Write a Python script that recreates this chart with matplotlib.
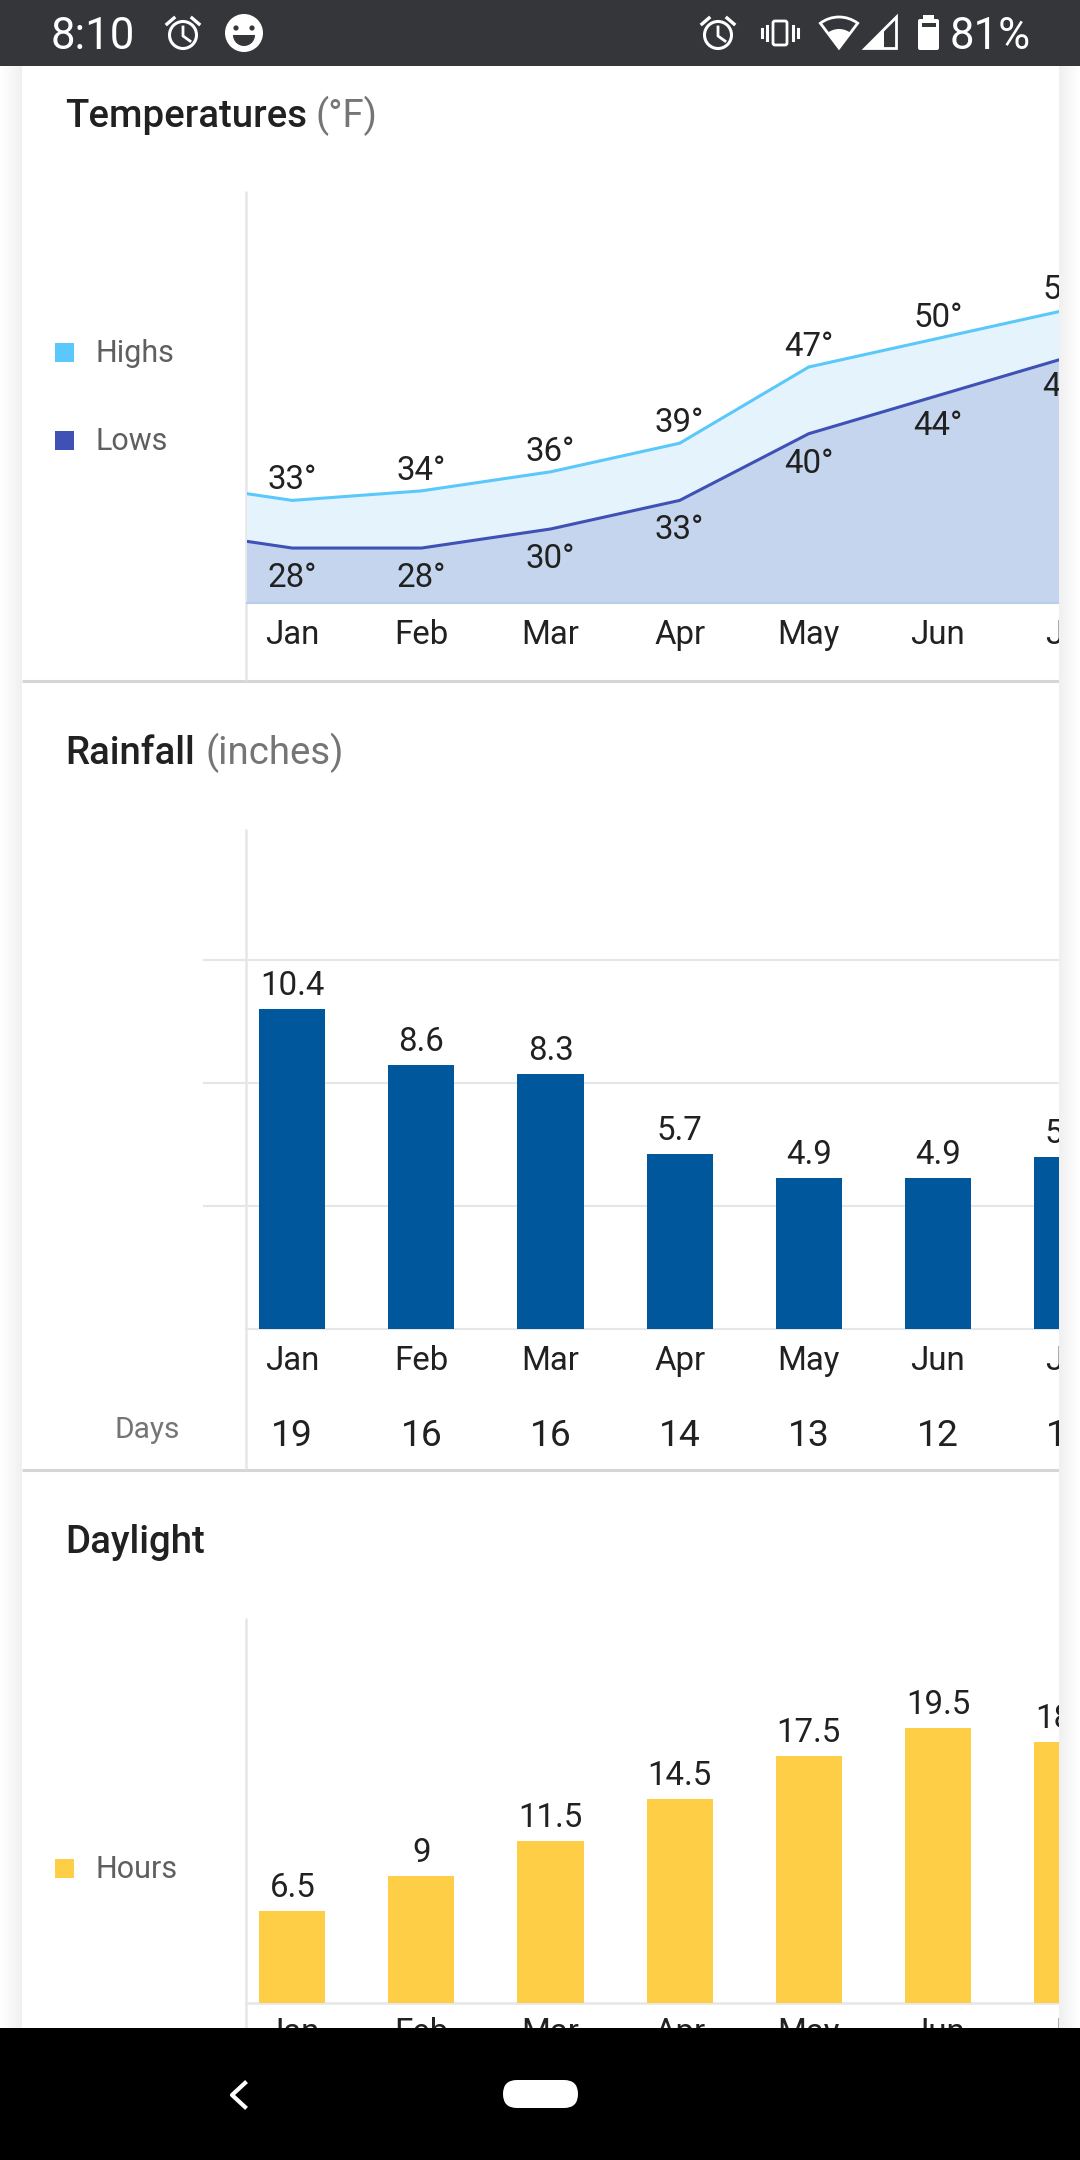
import numpy as np
from matplotlib import pyplot as plt
from matplotlib.patches import Rectangle, Circle, Wedge, Polygon, FancyBboxPatch

plt.rcParams['font.family'] = ['Roboto', 'DejaVu Sans']

W, H = 1080, 2160
months = ['Jan', 'Feb', 'Mar', 'Apr', 'May', 'Jun', 'Jul']

# temperatures, first point is Dec which sits just left of the axis
temp_pos = [-1, 0, 1, 2, 3, 4, 5, 6]
highs = [35, 33, 34, 36, 39, 47, 50, 53]
lows = [30, 28, 28, 30, 33, 40, 44, 48]

rainfall = [10.4, 8.6, 8.3, 5.7, 4.9, 4.9, 5.6]
rain_ticks = [4, 8, 12]
rain_days = [19, 16, 16, 14, 13, 12, 11]

daylight = [6.5, 9, 11.5, 14.5, 17.5, 19.5, 18.5]
daylight_labels = ['6.5', '9', '11.5', '14.5', '17.5', '19.5', '18.5']

TEXT = '#212121'
GREY = '#757575'
LEGEND = '#5f5f5f'
LINE = '#e6e6e6'
SEP = '#d6d6d6'
C_HIGH = '#5ac8fa'
C_LOW = '#3f51b5'
C_RAIN = '#01579b'
C_SUN = '#ffce47'

X0, DX = 292.3, 129.12
FS = 23.8

fig = plt.figure(figsize=(W / 100, H / 100), dpi=100, facecolor='white')


def pixel_ax(z):
    ax = fig.add_axes([0, 0, 1, 1], zorder=z)
    ax.set_xlim(0, W)
    ax.set_ylim(H, 0)
    ax.axis('off')
    ax.patch.set_visible(False)
    return ax


def chart_ax(left, top, bottom, ymin, ymax, pad=12):
    ax = fig.add_axes([left / W, 1 - bottom / H, (W - left) / W, (bottom - top) / H], zorder=2)
    ax.patch.set_visible(False)
    for s in ax.spines.values():
        s.set_visible(False)
    ax.set_xlim((left - X0) / DX, (W - X0) / DX)
    ax.set_ylim(ymin, ymax)
    ax.set_xticks(range(len(months)))
    ax.set_xticklabels(months, fontsize=FS, color=TEXT)
    ax.set_yticks([])
    ax.tick_params(length=0, pad=pad)
    return ax


back = pixel_ax(0)
top = pixel_ax(5)

# section separators and vertical axis lines
for y in [681, 1470]:
    back.plot([22, 1059], [y, y], color=SEP, lw=2.2, solid_capstyle='butt')
for y0, y1 in [(191, 680), (829, 1469), (1618, 2030)]:
    back.plot([246, 246], [y0, y1], color=LINE, lw=1.8, solid_capstyle='butt')
back.plot([246, 1059], [1328.6, 1328.6], color=LINE, lw=1.5)
back.plot([246, 1059], [2003, 2003], color=LINE, lw=1.8)

# titles
back.text(65.5, 127, 'Temperatures', fontsize=27.6, fontweight='medium', color=TEXT, va='baseline')
back.text(315, 127, '(°F)', fontsize=27.6, color=GREY, va='baseline')
back.text(65.5, 764, 'Rainfall', fontsize=27.6, fontweight='medium', color=TEXT, va='baseline')
back.text(205, 764, '(inches)', fontsize=27.6, color=GREY, va='baseline')
back.text(65.5, 1553, 'Daylight', fontsize=27.6, fontweight='medium', color=TEXT, va='baseline')

# legends
for y, c, lab in [(352.5, C_HIGH, 'Highs'), (440.5, C_LOW, 'Lows'), (1868, C_SUN, 'Hours')]:
    back.add_patch(Rectangle((55, y - 9.5), 19, 19, color=c, lw=0))
    back.text(96, y + 9.5, lab, fontsize=22, color=LEGEND, va='baseline')
back.text(179.5, 1438, 'Days', fontsize=21.5, color=GREY, va='baseline', ha='right')

# temperatures
ppd = 9.53
ax1 = chart_ax(247, 191, 602.7, 33 - (602.7 - 500.4) / ppd, 33 + (500.4 - 191) / ppd)
base = ax1.get_ylim()[0]
ax1.fill_between(temp_pos, highs, base, color='#e5f3fd', lw=0)
ax1.fill_between(temp_pos, lows, base, color='#c5d5ee', lw=0)
ax1.plot(temp_pos, highs, color=C_HIGH, lw=2.2)
ax1.plot(temp_pos, lows, color=C_LOW, lw=2.2)
ax1.axhline(base, color='#b9cce8', lw=1.5, clip_on=False)
for x, hi, lo in zip(temp_pos[1:], highs[1:], lows[1:]):
    ax1.annotate(f'{hi}°', (x, hi), xytext=(0, 11), textcoords='offset pixels', ha='center',
                 va='baseline', fontsize=FS, color=TEXT, annotation_clip=False)
    ax1.annotate(f'{lo}°', (x, lo), xytext=(0, -39), textcoords='offset pixels', ha='center',
                 va='baseline', fontsize=FS, color=TEXT, annotation_clip=False)

# rainfall
ppi = 30.7
ax2 = chart_ax(203, 829, 1328.6, 0, (1328.6 - 829) / ppi)
ax2.set_yticks(rain_ticks)
ax2.set_yticklabels([])
ax2.grid(axis='y', color=LINE, lw=1.5)
ax2.set_axisbelow(True)
ax2.bar(range(len(months)), rainfall, width=0.512, color=C_RAIN)
for i, v in enumerate(rainfall):
    ax2.annotate(f'{v}', (i, v), xytext=(0, 14), textcoords='offset pixels', ha='center',
                 va='baseline', fontsize=FS, color=TEXT, annotation_clip=False)
    ax2.annotate(f'{rain_days[i]}', (i, 0), xytext=(0, -117), textcoords='offset pixels', ha='center',
                 va='baseline', fontsize=26.8, color=TEXT, annotation_clip=False)

# daylight
pph = 14.1
ax3 = chart_ax(247, 1618, 2003, 0, (2003 - 1618) / pph, pad=10)
ax3.bar(range(len(months)), daylight, width=0.512, color=C_SUN)
for i, v in enumerate(daylight):
    ax3.annotate(daylight_labels[i], (i, v), xytext=(0, 14), textcoords='offset pixels', ha='center',
                 va='baseline', fontsize=FS, color=TEXT, annotation_clip=False)

# page shadow either side of the card
shade_l = np.linspace(0, 1, 40).reshape(1, -1)
top.imshow(shade_l, extent=(0, 22, 2030, 66), cmap='Greys', vmin=-0.0, vmax=8, aspect='auto', zorder=1)
top.imshow(shade_l[:, ::-1], extent=(1059, W, 2030, 66), cmap='Greys', vmin=0, vmax=8, aspect='auto', zorder=1)
top.set_xlim(0, W)
top.set_ylim(H, 0)

# status bar
BAR = '#35363a'
top.add_patch(Rectangle((0, 0), W, 66, color=BAR, lw=0, zorder=2))
top.text(50.5, 49, '8:10', fontsize=31.5, color='white', va='baseline', zorder=3)
top.text(950, 49, '81%', fontsize=31.5, color='white', va='baseline', zorder=3)


def alarm(cx, cy):
    top.add_patch(Circle((cx, cy), 13.5, fill=False, ec='white', lw=2.2, zorder=3))
    top.plot([cx, cx, cx + 7], [cy - 8, cy + 1, cy + 6], color='white', lw=2, zorder=3)
    top.plot([cx - 16, cx - 9], [cy - 11, cy - 17], color='white', lw=2.4, zorder=3)
    top.plot([cx + 16, cx + 9], [cy - 11, cy - 17], color='white', lw=2.4, zorder=3)


alarm(183, 35)
alarm(718, 35)

# face
top.add_patch(Circle((244, 33), 19, color='white', lw=0, zorder=3))
top.add_patch(Circle((236, 28), 2.6, color=BAR, lw=0, zorder=4))
top.add_patch(Circle((252, 28), 2.6, color=BAR, lw=0, zorder=4))
top.add_patch(Wedge((244, 35), 11, 0, 180, color=BAR, lw=0, zorder=4))

# vibrate
top.add_patch(FancyBboxPatch((773, 21), 14, 24, boxstyle='round,pad=0,rounding_size=2', fill=False,
                             ec='white', lw=2, zorder=3))
for x, y0, y1 in [(767, 26, 40), (762, 29, 37), (793, 26, 40), (798, 29, 37)]:
    top.plot([x, x], [y0, y1], color='white', lw=2.2, zorder=3)

# wifi
top.add_patch(Wedge((839, 48), 31, 233, 307, fill=False, ec='white', lw=2, zorder=3))
top.add_patch(Wedge((839, 48), 19, 233, 307, color='white', lw=0, zorder=3))

# signal
top.add_patch(Polygon([(865, 48.5), (896.5, 48.5), (896.5, 17)], fill=False, ec='white', lw=2, zorder=3))
top.add_patch(Polygon([(864, 49), (884, 49), (884, 29)], color='white', lw=0, zorder=3))

# battery
top.add_patch(FancyBboxPatch((918, 19), 21, 31, boxstyle='round,pad=0,rounding_size=2', color='white', lw=0, zorder=3))
top.add_patch(Rectangle((923, 15), 11, 5, color='white', lw=0, zorder=3))
top.add_patch(Rectangle((922, 23), 13.5, 4, color=BAR, lw=0, zorder=4))

# nav bar
top.add_patch(Rectangle((0, 2028), W, H - 2028, color='black', lw=0, zorder=2))
top.plot([245, 232, 245], [2083, 2095, 2107], color='white', lw=3, zorder=3)
top.add_patch(FancyBboxPatch((503, 2080), 75, 28, boxstyle='round,pad=0,rounding_size=14', color='white', lw=0, zorder=3))

fig.savefig('out.png', dpi=100)
